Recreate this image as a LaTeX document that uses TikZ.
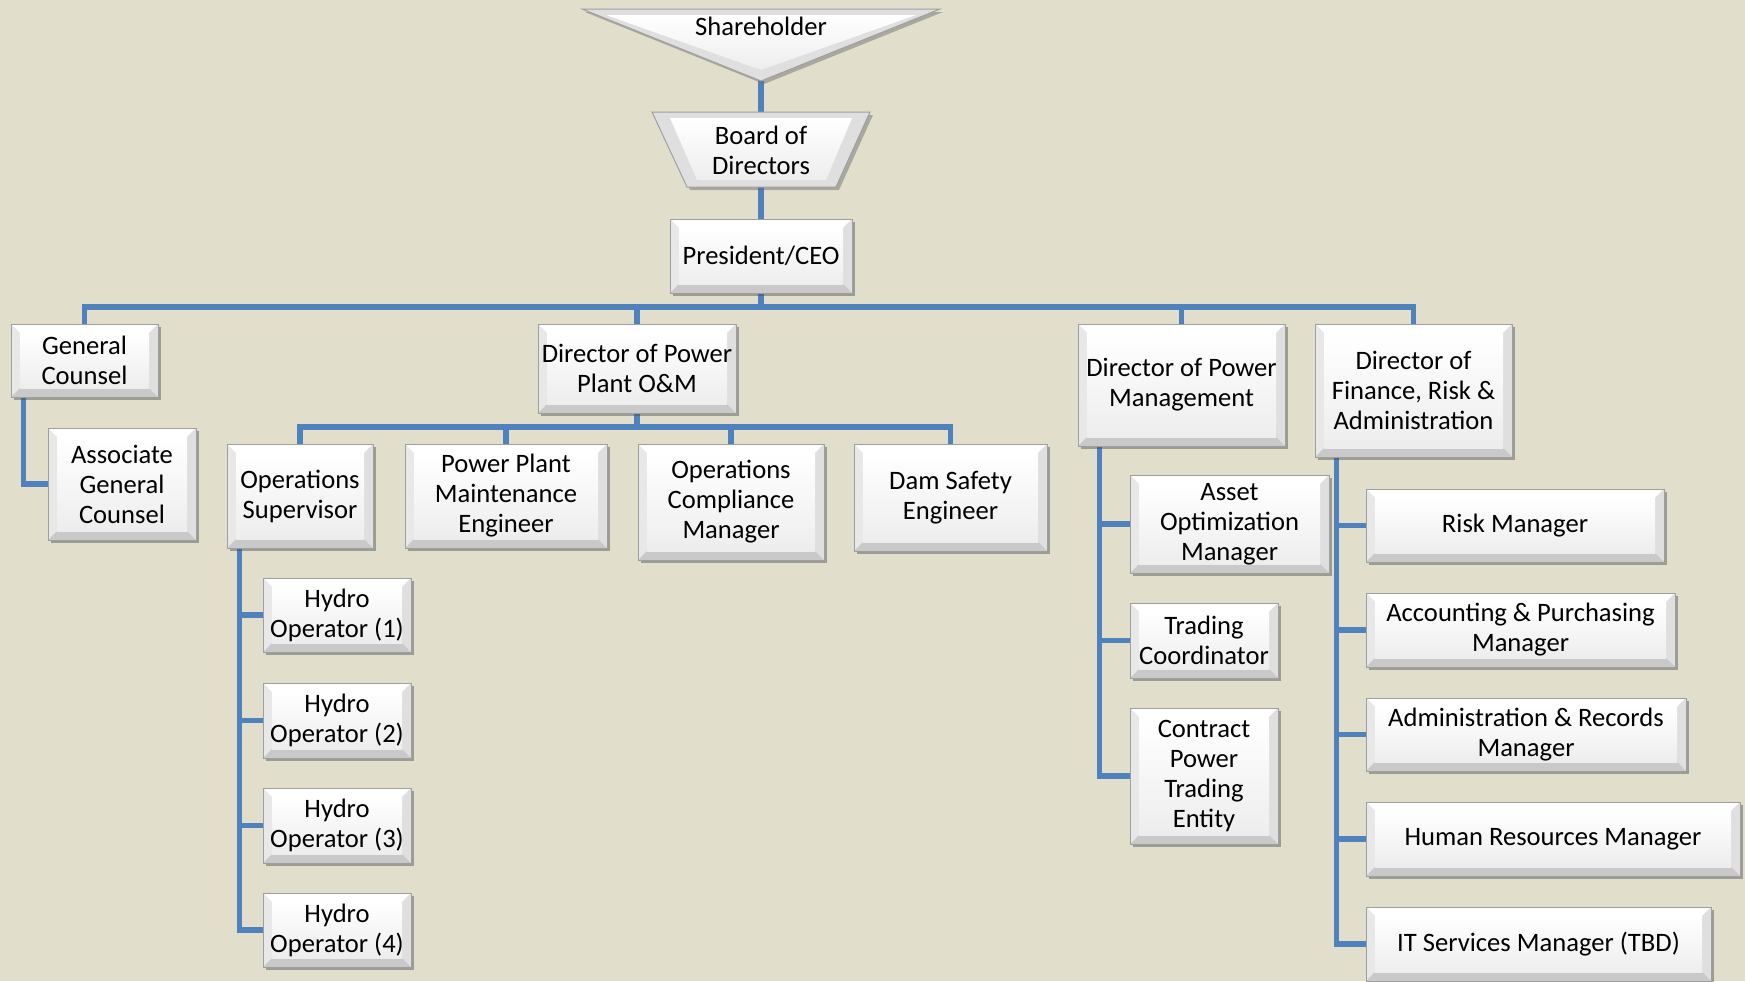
\documentclass[tikz,border=0pt]{standalone}
\usepackage{fontspec}
\setmainfont{Carlito}
\usetikzlibrary{calc,shadows}
\pgfdeclarelayer{background}
\pgfdeclarelayer{lines}
\pgfsetlayers{background,lines,main}
\definecolor{bgc}{RGB}{225,222,204}
\definecolor{linec}{RGB}{79,129,189}
\tikzset{
  conn/.style={draw=linec, line width=2.6pt},
  bevel/.style 2 args={
    draw=gray!75, line width=0.5pt, fill=gray!20,
    minimum width=#1*0.5pt, minimum height=#2*0.5pt,
    inner sep=0pt, align=center,
    font=\fontsize{13.3pt}{15pt}\selectfont,
    drop shadow={shadow xshift=1.6pt, shadow yshift=-1.6pt, opacity=0.45, fill=black!70},
    path picture={
      \path (path picture bounding box.south west) coordinate (pA)
            (path picture bounding box.north east) coordinate (pC);
      \path ($(pA)+(4.5pt,4.5pt)$) coordinate (iA) ($(pC)-(4.5pt,4.5pt)$) coordinate (iC);
      \fill[white] (pA |- pC) -- (pC) -- (iC) -- (iA |- iC) -- cycle;
      \fill[gray!18] (pA) -- (pA |- pC) -- (iA |- iC) -- (iA) -- cycle;
      \fill[gray!25] (pC) -- (pA -| pC) -- (iA -| iC) -- (iC) -- cycle;
      \fill[gray!42] (pA) -- (pA -| pC) -- (iA -| iC) -- (iA) -- cycle;
      \shade[top color=white, bottom color=gray!14] (iA) rectangle (iC);
    }
  },
  lbl/.style={font=\fontsize{13.3pt}{15pt}\selectfont, align=center, inner sep=0pt}
}
\begin{document}
\begin{tikzpicture}[x=0.5pt, y=-0.5pt]
\begin{pgfonlayer}{background}
\fill[bgc] (0,0) rectangle (1745,981);
\end{pgfonlayer}
\useasboundingbox (0,0) rectangle (1745,981);

% Shareholder triangle
\fill[black!60, opacity=0.45] (585,12) -- (943,12) -- (764,84) -- cycle;
\fill[gray!25, draw=gray!75, line width=0.5pt] (582,9) -- (940,9) -- (761,81) -- cycle;
\shade[top color=white, bottom color=gray!14] (606,15) -- (916,15) -- (761,70) -- cycle;
\node[lbl] (sh) at (761,26) {Shareholder};
\coordinate (shTip) at (761,81);

% Board of Directors trapezoid
\fill[black!60, opacity=0.45] (655,115) -- (873,115) -- (839,190) -- (690,190) -- cycle;
\fill[gray!25, draw=gray!75, line width=0.5pt] (652,112) -- (870,112) -- (836,187) -- (687,187) -- cycle;
\shade[top color=white, bottom color=gray!14] (670,118) -- (852,118) -- (826,180) -- (697,180) -- cycle;
\node[lbl] (bod) at (761,150) {Board of\\Directors};
\coordinate (bodTop) at (761,112);
\coordinate (bodBot) at (761,187);

% Level 1
\node[bevel={182}{74}] (ceo) at (761,256) {President/CEO};

% Level 2
\node[bevel={147}{73}] (gc) at (84.5,360.5) {General\\Counsel};
\node[bevel={198}{89}] (om) at (637,368.5) {Director of Power\\Plant O\&M};
\node[bevel={207}{122}] (dpm) at (1181.5,385) {Director of Power\\Management};
\node[bevel={197}{133}] (dfra) at (1413.5,390.5) {Director of\\Finance, Risk \&\\Administration};

\node[bevel={148}{112}] (agc) at (122,484) {Associate\\General\\Counsel};

% O&M reports
\node[bevel={146}{104}] (ops) at (300,496) {Operations\\Supervisor};
\node[bevel={202}{104}] (ppme) at (506,496) {Power Plant\\Maintenance\\Engineer};
\node[bevel={186}{116}] (ocm) at (731,502) {Operations\\Compliance\\Manager};
\node[bevel={193}{107}] (dse) at (950.5,497.5) {Dam Safety\\Engineer};

\node[bevel={148}{74}] (ho1) at (337,615) {Hydro\\Operator (1)};
\node[bevel={148}{75}] (ho2) at (337,720.5) {Hydro\\Operator (2)};
\node[bevel={148}{75}] (ho3) at (337,825.5) {Hydro\\Operator (3)};
\node[bevel={148}{74}] (ho4) at (337,930) {Hydro\\Operator (4)};

% Power management reports
\node[bevel={199}{98}] (aom) at (1229.5,524) {Asset\\Optimization\\Manager};
\node[bevel={148}{75}] (tc) at (1204,640.5) {Trading\\Coordinator};
\node[bevel={148}{136}] (cpte) at (1204,776) {Contract\\Power\\Trading\\Entity};

% Finance reports
\node[bevel={298}{73}] (rm) at (1515,525.5) {Risk Manager};
\node[bevel={309}{74}] (apm) at (1520.5,630) {Accounting \& Purchasing\\Manager};
\node[bevel={320}{73}] (arm) at (1526,734.5) {Administration \& Records\\Manager};
\node[bevel={374}{74}] (hr) at (1553,839) {Human Resources Manager};
\node[bevel={345}{74}] (it) at (1538.5,944) {IT Services Manager (TBD)};

\coordinate (bus) at (761,307);
\coordinate (obus) at (637,427);

\begin{pgfonlayer}{lines}
  \draw[conn] (shTip) -- (bodTop);
  \draw[conn] (bodBot) -- (ceo.north);
  \draw[conn] (ceo.south) -- (bus);
  \draw[conn] (gc.north) |- (bus -| dfra.north) -- (dfra.north);
  \draw[conn] (om.north) -- (om.north |- bus);
  \draw[conn] (dpm.north) -- (dpm.north |- bus);
  \draw[conn] ($(gc.south west)+(13,0)$) |- (agc.west);
  \draw[conn] (om.south) -- (obus);
  \draw[conn] (ops.north) |- (obus -| dse.north) -- (dse.north);
  \draw[conn] (ppme.north) -- (ppme.north |- obus);
  \draw[conn] (ocm.north) -- (ocm.north |- obus);
  \draw[conn] ($(ops.south west)+(13,0)$) |- (ho1.west);
  \draw[conn] ($(ops.south west)+(13,0)$) |- (ho2.west);
  \draw[conn] ($(ops.south west)+(13,0)$) |- (ho3.west);
  \draw[conn] ($(ops.south west)+(13,0)$) |- (ho4.west);
  \draw[conn] ($(dpm.south west)+(22,0)$) |- (aom.west);
  \draw[conn] ($(dpm.south west)+(22,0)$) |- (tc.west);
  \draw[conn] ($(dpm.south west)+(22,0)$) |- (cpte.west);
  \draw[conn] ($(dfra.south west)+(22,0)$) |- (rm.west);
  \draw[conn] ($(dfra.south west)+(22,0)$) |- (apm.west);
  \draw[conn] ($(dfra.south west)+(22,0)$) |- (arm.west);
  \draw[conn] ($(dfra.south west)+(22,0)$) |- (hr.west);
  \draw[conn] ($(dfra.south west)+(22,0)$) |- (it.west);
\end{pgfonlayer}
\end{tikzpicture}
\end{document}
